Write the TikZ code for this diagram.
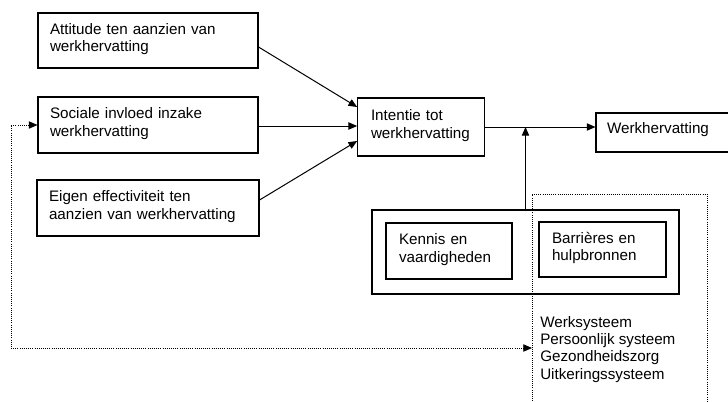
\documentclass[tikz,border=0pt]{standalone}
\usepackage{fontspec}
\setmainfont{Liberation Sans}
\usetikzlibrary{arrows.meta,calc}
\begin{document}
\begin{tikzpicture}[x=0.75pt,y=-0.75pt,
  bx/.style={draw, line width=0.8pt, align=left, inner ysep=0pt,
    text depth=17.5pt, font=\fontsize{11.4}{13}\selectfont},
  onebx/.style={bx, text depth=7.5pt},
  plainbx/.style={draw, line width=0.8pt, inner sep=0pt},
  arr/.style={line width=0.75pt, -{Triangle[length=6.5pt,width=5.5pt]}},
  fb/.style={line width=0.6pt, densely dotted,
    {Triangle[length=6.5pt,width=5.5pt]}-{Triangle[length=6.5pt,width=5.5pt]}},
  dotbox/.style={line width=0.6pt, densely dotted},
  txt/.style={align=left, inner sep=0pt, font=\fontsize{11.4}{13}\selectfont}]
\useasboundingbox (0,0) rectangle (728,401);
\clip (0,0) rectangle (728,401);

% left column
\node[bx, minimum height=41.25pt, text width=147pt, inner xsep=9pt] (att) at (148,40.5)
  {Attitude ten aanzien van\\werkhervatting};
\node[bx, minimum height=42pt, text width=147pt, inner xsep=9pt] (soc) at (148,125)
  {Sociale invloed inzake\\werkhervatting};
\node[bx, minimum height=42pt, text width=148.5pt, inner xsep=9pt] (eig) at (148,208)
  {Eigen effectiviteit ten\\aanzien van werkhervatting};

% middle / right
\node[bx, minimum height=43.5pt, text width=75pt, inner xsep=10pt] (int) at (421,127)
  {Intentie tot\\werkhervatting};
\node[onebx, minimum height=29.25pt, text width=84pt, inner xsep=8.25pt] (wer) at (663,132.5)
  {Werkhervatting};

% lower group
\node[plainbx, minimum width=230.25pt, minimum height=63pt] (outer) at (525.5,252) {};
\node[bx, minimum height=42pt, text width=75pt, inner xsep=9.75pt] (ken) at (449,251)
  {Kennis en\\vaardigheden};
\node[bx, minimum height=41.25pt, text width=75.75pt, inner xsep=9.75pt] (bar) at (602.5,249.5)
  {Barrières en\\hulpbronnen};

% dotted system box (open at the bottom)
\draw[dotbox] (532,401) -- (532,194) -- (707,194) -- (707,401);
\node[txt, anchor=north west] (sys) at (540,316)
  {Werksysteem\\Persoonlijk systeem\\Gezondheidszorg\\Uitkeringssysteem};

% connectors
\draw[arr] ($(att.east)+(0,6.5)$) -- ($(int.west)+(0,-20)$);
\draw[arr] ($(soc.east)+(0,1)$) -- ($(int.west)+(0,-1)$);
\draw[arr] ($(eig.east)+(0,-8)$) -- ($(int.west)+(0,14)$);
\draw[arr] (int.east) -- (int.east -| wer.west);
\draw[arr] (outer.north) -- (outer.north |- int.east);

% dotted feedback
\coordinate (fbc) at (11,348);
\coordinate (fbend) at (532,348);
\draw[fb] (soc.west) -| (fbc) -- (fbend);
\end{tikzpicture}
\end{document}
